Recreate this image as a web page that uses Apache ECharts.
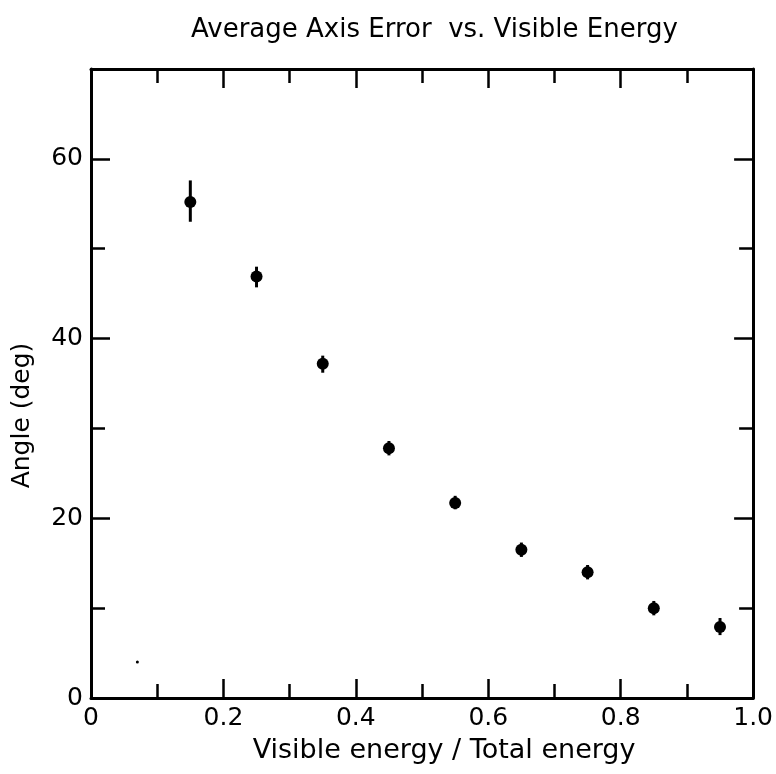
<!DOCTYPE html>
<html>
<head>
<meta charset="utf-8">
<script src="https://cdn.jsdelivr.net/npm/echarts@6/dist/echarts.min.js"></script>
<style>html,body{margin:0;padding:0;background:#fff;}#chart{width:776px;height:774px;}</style>
</head>
<body>
<div id="chart"></div>
<script>
// Data
const energyFraction = [0.15, 0.25, 0.35, 0.45, 0.55, 0.65, 0.75, 0.85, 0.95];
const angleDeg       = [55.2, 46.9, 37.2, 27.8, 21.7, 16.5, 14.0, 10.0, 7.9];
const angleLow       = [53.0, 45.7, 36.2, 27.0, 21.0, 15.7, 13.2, 9.2, 7.0];
const angleHigh      = [57.6, 48.0, 38.1, 28.6, 22.5, 17.3, 14.8, 10.8, 8.9];
const speckX = [0.07];
const speckY = [4.0];
const xTickValues = [0, 0.2, 0.4, 0.6, 0.8, 1.0];
const xTickLabels = ['0', '0.2', '0.4', '0.6', '0.8', '1.0'];
const yTickValues = [0, 20, 40, 60];
const yTickLabels = ['0', '20', '40', '60'];

const FONT = 'DejaVu Sans';
const BLACK = '#000';

function xLabel(v) {
  const i = xTickValues.findIndex(t => Math.abs(t - v) < 1e-6);
  return i >= 0 ? xTickLabels[i] : '';
}
function yLabel(v) {
  const i = yTickValues.findIndex(t => Math.abs(t - v) < 1e-6);
  return i >= 0 ? yTickLabels[i] : '';
}

function xAxisDef(pos, major, labels, name) {
  return {
    type: 'value', position: pos, min: 0, max: 1,
    interval: major ? 0.2 : 0.1,
    axisLine: { show: major, onZero: false, lineStyle: { color: BLACK, width: 3 } },
    axisTick: { show: true, inside: true, length: major ? 19 : 14, lineStyle: { color: BLACK, width: 2.5 } },
    axisLabel: { show: labels, formatter: xLabel, color: BLACK, fontFamily: FONT, fontSize: 25, margin: 8 },
    splitLine: { show: false },
    name: name || '', nameLocation: 'middle', nameGap: 39,
    nameTextStyle: { color: BLACK, fontFamily: FONT, fontSize: 27, padding: [0, 0, 0, 44] }
  };
}
function yAxisDef(pos, major, labels, name) {
  return {
    type: 'value', position: pos, min: 0, max: 70,
    interval: major ? 20 : 10,
    axisLine: { show: major, onZero: false, lineStyle: { color: BLACK, width: 3 } },
    axisTick: { show: true, inside: true, length: major ? 19 : 14, lineStyle: { color: BLACK, width: 2.5 } },
    axisLabel: { show: labels, formatter: yLabel, color: BLACK, fontFamily: FONT, fontSize: 25, margin: 8 },
    splitLine: { show: false },
    name: name || '', nameLocation: 'middle', nameGap: 56, nameRotate: 90,
    nameTextStyle: { color: BLACK, fontFamily: FONT, fontSize: 25, padding: [0, 64, 0, 0] }
  };
}

const chart = echarts.init(document.getElementById('chart'), null, { renderer: 'canvas' });
chart.setOption({
  backgroundColor: '#fff',
  animation: false,
  title: {
    text: 'Average Axis Error  vs. Visible Energy',
    left: 186, top: 12,
    textStyle: { color: BLACK, fontFamily: FONT, fontSize: 26, fontWeight: 'normal' }
  },
  grid: { left: 91, right: 19, top: 69, bottom: 76, containLabel: false },
  xAxis: [
    xAxisDef('bottom', true, true, 'Visible energy / Total energy'),
    xAxisDef('bottom', false, false),
    xAxisDef('top', true, false),
    xAxisDef('top', false, false)
  ],
  yAxis: [
    yAxisDef('left', true, true, 'Angle (deg)'),
    yAxisDef('left', false, false),
    yAxisDef('right', true, false),
    yAxisDef('right', false, false)
  ],
  series: [
    {
      type: 'custom', xAxisIndex: 0, yAxisIndex: 0,
      data: energyFraction.map((x, i) => [x, angleLow[i], angleHigh[i]]),
      renderItem: function (params, api) {
        const x = api.value(0);
        const p1 = api.coord([x, api.value(1)]);
        const p2 = api.coord([x, api.value(2)]);
        return { type: 'line', shape: { x1: p1[0], y1: p1[1], x2: p2[0], y2: p2[1] },
                 style: { stroke: BLACK, lineWidth: 3 } };
      },
      z: 2
    },
    {
      type: 'scatter', xAxisIndex: 0, yAxisIndex: 0,
      data: energyFraction.map((x, i) => [x, angleDeg[i]]),
      symbol: 'circle', symbolSize: 12,
      itemStyle: { color: BLACK, opacity: 1 },
      z: 3
    },
    {
      type: 'scatter', xAxisIndex: 0, yAxisIndex: 0,
      data: speckX.map((x, i) => [x, speckY[i]]),
      symbol: 'circle', symbolSize: 3,
      itemStyle: { color: BLACK, opacity: 1 },
      z: 3
    }
  ]
});
</script>
</body>
</html>
